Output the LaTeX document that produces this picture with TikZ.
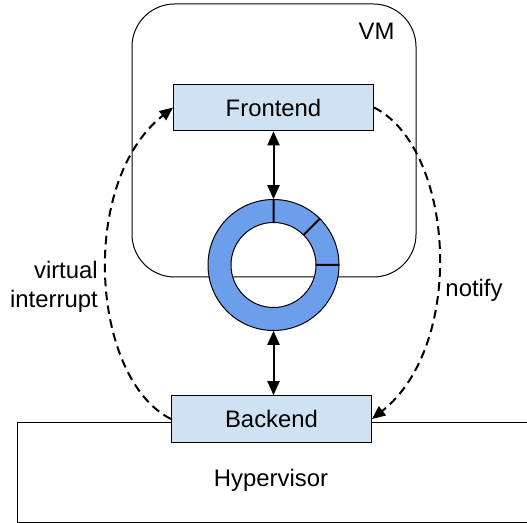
\documentclass[tikz,border=0pt]{standalone}
\usepackage{fontspec}
\setmainfont{Liberation Sans}
\usetikzlibrary{arrows.meta,calc}

\definecolor{boxblue}{RGB}{207,226,243}
\definecolor{ringblue}{RGB}{109,158,235}

\tikzset{
  partbox/.style={draw=black, line width=0.75pt, fill=boxblue, minimum width=150pt, minimum height=35pt, inner sep=0pt, font=\fontsize{17.9}{21.5}\selectfont},
  txt/.style={inner sep=0.75pt, font=\fontsize{17.9}{21.5}\selectfont},
  dataflow/.style={line width=1.5pt, {Triangle[length=10.5pt,width=9pt]}-{Triangle[length=10.5pt,width=9pt]}},
  signal/.style={line width=1.5pt, dash pattern=on 6.5pt off 4pt, -{Triangle[length=10pt,width=8.5pt]}},
}

\begin{document}
\begin{tikzpicture}[x=0.75pt,y=0.75pt,yscale=-1,xscale=1]
\clip (0,0) rectangle (527,523);

%Shape: Rounded Rectangle [VM]
\draw [line width=0.75pt, rounded corners=32pt] (132,4) rectangle (416,277);
% Text Node
\node [txt] (vm) at (376.5,31) {VM};

%Shape: Rectangle [Hypervisor]
\draw [line width=0.75pt] (17,422) rectangle (545,522);
% Text Node
\node [txt] (hv) at (271,480) {Hypervisor};

%Shape: Ring
\node [circle, minimum size=98.25pt, inner sep=0pt] (ring) at (273.5,265) {};
\draw [line width=0.75pt, fill=ringblue, even odd rule] (ring.center) circle [radius=65.5] (ring.center) circle [radius=42.5];
\foreach \a in {90,45,0}
  \draw [line width=1.5pt] ($(ring.center)!0.649!(ring.\a)$) -- (ring.\a);

% Frontend / Backend
\node [partbox] (fe) at (273.5,107.5) {Frontend};
\node [partbox] (bk) at (271.5,419) {Backend};

% Arrows
\draw [dataflow] (fe.south -| ring.north) -- (ring.north);
\draw [dataflow] (ring.south) -- (ring.south |- bk.north);
\draw [signal] (bk.west) .. controls +(-80,-40) and +(-95,75) .. (fe.west);
\draw [signal] (fe.east) .. controls +(80,40) and +(95,-75) .. (bk.east);

% Text Node
\node [txt, align=right, anchor=east] (vi) at (99,287) {virtual\\interrupt};
% Text Node
\node [txt] (nt) at (474,290) {notify};

\end{tikzpicture}
\end{document}
